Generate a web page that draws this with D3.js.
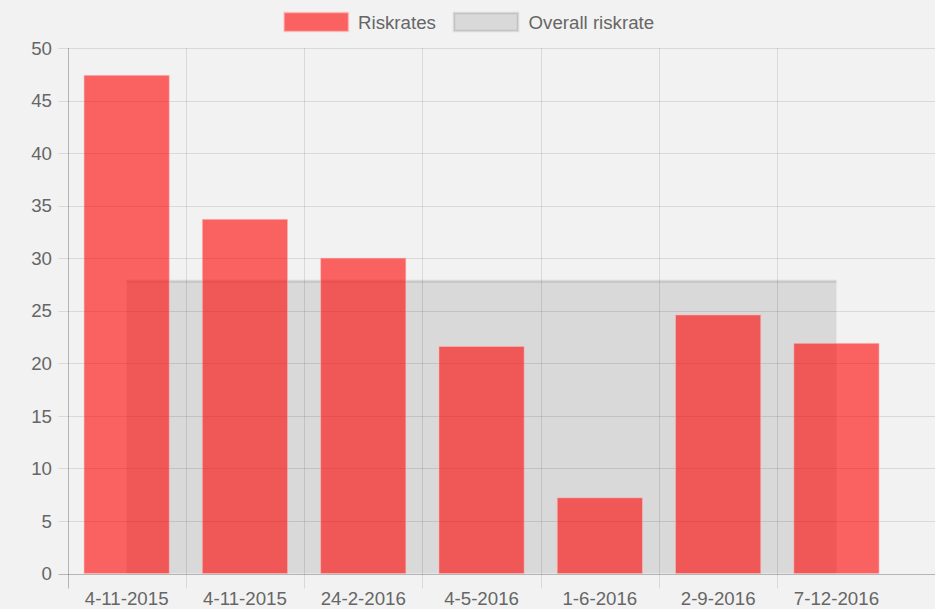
<!DOCTYPE html>
<html>
<head>
<meta charset="utf-8">
<script src="https://cdn.jsdelivr.net/npm/d3@7"></script>
<style>
  html, body { margin: 0; padding: 0; background: #f2f2f2; }
  svg { display: block; }
  text { font-family: "Liberation Sans", Arial, Helvetica, sans-serif; fill: #666; }
</style>
</head>
<body>
<svg id="chart" width="935" height="609"></svg>
<script>
const categories = ["4-11-2015", "4-11-2015", "24-2-2016", "4-5-2016", "1-6-2016", "2-9-2016", "7-12-2016"];
const riskrates = [47.4, 33.7, 30.0, 21.6, 7.2, 24.6, 21.9];
const overallRiskrate = [27.8, 27.8, 27.8, 27.8, 27.8, 27.8, 27.8];
const yTicks = [0, 5, 10, 15, 20, 25, 30, 35, 40, 45, 50];
const seriesNames = ["Riskrates", "Overall riskrate"];

(function () {
const svg = d3.select("#chart");
const W = 935, H = 609;
const plotLeft = 67.5, plotTop = 48, plotBottom = 573.5;
const catW = 118.3;
const plotRight = plotLeft + categories.length * catW;
const fontSize = 18.7;

const x = d3.scaleBand().domain(d3.range(categories.length)).range([plotLeft, plotRight]).padding(0);
const y = d3.scaleLinear().domain([0, 50]).range([plotBottom, plotTop]);

const barColor = "rgba(255,0,0,0.6)";
const areaColor = "rgba(0,0,0,0.1)";

// horizontal grid lines
svg.append("g").selectAll("line").data(yTicks).join("line")
  .attr("x1", plotLeft - 9).attr("x2", W)
  .attr("y1", d => Math.round(y(d)) + 0.5).attr("y2", d => Math.round(y(d)) + 0.5)
  .attr("stroke", d => d === 0 ? "rgba(0,0,0,0.25)" : "rgba(0,0,0,0.1)")
  .attr("stroke-width", 1);

// vertical grid lines (category boundaries)
svg.append("g").selectAll("line").data(d3.range(1, categories.length)).join("line")
  .attr("x1", d => Math.round(x(d)) + 0.5).attr("x2", d => Math.round(x(d)) + 0.5)
  .attr("y1", plotTop).attr("y2", plotBottom + 15)
  .attr("stroke", "rgba(0,0,0,0.1)").attr("stroke-width", 1);

// y axis line
svg.append("line")
  .attr("x1", Math.round(plotLeft) + 0.5).attr("x2", Math.round(plotLeft) + 0.5)
  .attr("y1", plotTop).attr("y2", plotBottom + 15)
  .attr("stroke", "rgba(0,0,0,0.25)").attr("stroke-width", 1);

// y tick labels
svg.append("g").selectAll("text").data(yTicks).join("text")
  .attr("x", 52).attr("y", d => y(d) + 6.7)
  .attr("text-anchor", "end")
  .style("font-size", fontSize + "px")
  .text(d => d);

// x tick labels
svg.append("g").selectAll("text").data(categories).join("text")
  .attr("x", (d, i) => x(i) + x.bandwidth() / 2).attr("y", 605)
  .attr("text-anchor", "middle")
  .style("font-size", fontSize + "px")
  .text(d => d);

// overall riskrate filled line
const cx = i => x(i) + x.bandwidth() / 2;
const area = d3.area().x((d, i) => cx(i)).y0(y(0)).y1(d => y(d));
svg.append("path").datum(overallRiskrate)
  .attr("d", area)
  .attr("fill", areaColor);
const line = d3.line().x((d, i) => cx(i)).y(d => y(d));
svg.append("path").datum(overallRiskrate)
  .attr("d", line)
  .attr("fill", "none")
  .attr("stroke", "rgba(0,0,0,0.1)")
  .attr("stroke-width", 3);

// bars
const barW = x.bandwidth() * 0.72;
svg.append("g").selectAll("rect").data(riskrates).join("rect")
  .attr("x", (d, i) => cx(i) - barW / 2)
  .attr("width", barW)
  .attr("y", d => y(d))
  .attr("height", d => y(0) - y(d))
  .attr("fill", barColor)
  .attr("stroke", "rgba(255,190,190,0.5)")
  .attr("stroke-width", 1);

// legend
const legend = svg.append("g");
legend.append("rect").attr("x", 284).attr("y", 12.5).attr("width", 64.5).attr("height", 19)
  .attr("fill", barColor).attr("stroke", "rgba(255,190,190,0.7)").attr("stroke-width", 1.5);
legend.append("text").attr("x", 358).attr("y", 29).style("font-size", fontSize + "px").text(seriesNames[0]);
legend.append("rect").attr("x", 454).attr("y", 13).attr("width", 64).attr("height", 18)
  .attr("fill", areaColor).attr("stroke", "rgba(0,0,0,0.1)").attr("stroke-width", 2.5);
legend.append("text").attr("x", 528.5).attr("y", 29).style("font-size", fontSize + "px").text(seriesNames[1]);
})();
</script>
</body>
</html>
